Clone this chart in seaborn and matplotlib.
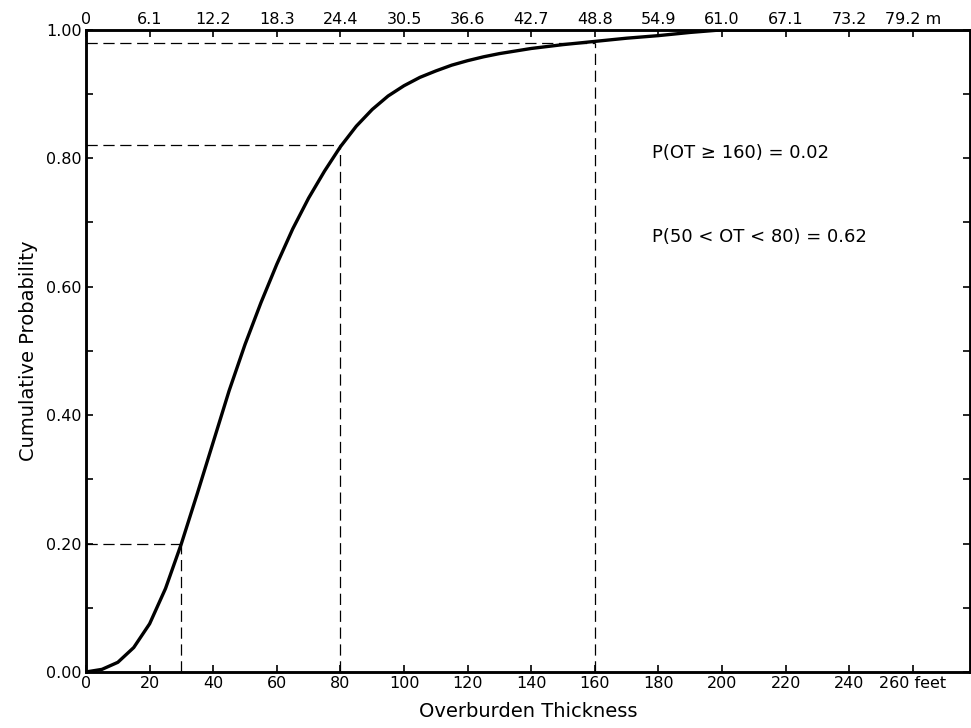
import matplotlib
matplotlib.use("Agg")
import matplotlib.pyplot as plt
import seaborn as sns
import pandas as pd

# cumulative probability curve (overburden thickness in feet)
feet = [0, 5, 10, 15, 20, 25, 30, 35, 40, 45, 50, 55, 60, 65, 70, 75, 80,
        85, 90, 95, 100, 105, 110, 115, 120, 125, 130, 140, 150, 160, 170,
        180, 190, 200, 278]
cum_prob = [0.0, 0.004, 0.015, 0.038, 0.075, 0.13, 0.20, 0.278, 0.358, 0.438,
            0.51, 0.575, 0.635, 0.69, 0.738, 0.78, 0.818, 0.85, 0.876, 0.897,
            0.913, 0.926, 0.936, 0.945, 0.952, 0.958, 0.963, 0.971, 0.977,
            0.982, 0.987, 0.991, 0.996, 1.0, 1.0]

# reference points marked by dashed guides
ref_feet = [30, 80, 160]
ref_prob = [0.20, 0.82, 0.98]

feet_ticks = list(range(0, 261, 20))
feet_labels = [str(v) for v in feet_ticks[:-1]] + ["260 feet"]
metre_labels = ["0", "6.1", "12.2", "18.3", "24.4", "30.5", "36.6", "42.7",
                "48.8", "54.9", "61.0", "67.1", "73.2", "79.2 m"]
prob_ticks = [0.0, 0.2, 0.4, 0.6, 0.8, 1.0]
prob_labels = ["0.00", "0.20", "0.40", "0.60", "0.80", "1.00"]

notes = ["P(OT \u2265 160) = 0.02", "P(50 < OT < 80) = 0.62"]

sns.set_style("ticks")
plt.rcParams["font.family"] = ["DejaVu Sans"]

df = pd.DataFrame({"feet": feet, "prob": cum_prob})

fig = plt.figure(figsize=(9.71, 7.28), dpi=100)
ax = fig.add_axes([0.0886, 0.077, 0.9104, 0.882])

sns.lineplot(data=df, x="feet", y="prob", color="black", linewidth=2.4, ax=ax)

for xf, yp in zip(ref_feet, ref_prob):
    ax.plot([0, xf], [yp, yp], color="black", linestyle=(0, (9, 4.5)), linewidth=0.9)
    ax.plot([xf, xf], [0, yp], color="black", linestyle=(0, (9, 4.5)), linewidth=0.9)

ax.set_xlim(0, 278)
ax.set_ylim(0, 1.0)
ax.set_xticks(feet_ticks)
ax.set_xticklabels(feet_labels, fontsize=11.5)
ax.set_yticks(prob_ticks)
ax.set_yticklabels(prob_labels, fontsize=11.5)
ax.set_yticks([0.1, 0.3, 0.5, 0.7, 0.9], minor=True)
ax.tick_params(axis="both", which="both", direction="in", length=5, width=1.2,
               right=True, pad=3, colors="black")
ax.set_xlabel("Overburden Thickness", fontsize=14, labelpad=8, color="black")
ax.set_ylabel("Cumulative Probability", fontsize=14, labelpad=6, color="black")

for s in ax.spines.values():
    s.set_linewidth(1.8)
    s.set_color("black")
    s.set_visible(True)

top = ax.twiny()
top.set_xlim(ax.get_xlim())
top.set_xticks(feet_ticks)
top.set_xticklabels(metre_labels, fontsize=11.5)
top.tick_params(axis="x", direction="in", length=5, width=1.2, pad=2, colors="black")
for s in top.spines.values():
    s.set_linewidth(1.8)
    s.set_color("black")

ax.text(178, 0.808, notes[0], fontsize=13, va="center", ha="left", color="black")
ax.text(178, 0.678, notes[1], fontsize=13, va="center", ha="left", color="black")

fig.savefig("out.png", dpi=100)
